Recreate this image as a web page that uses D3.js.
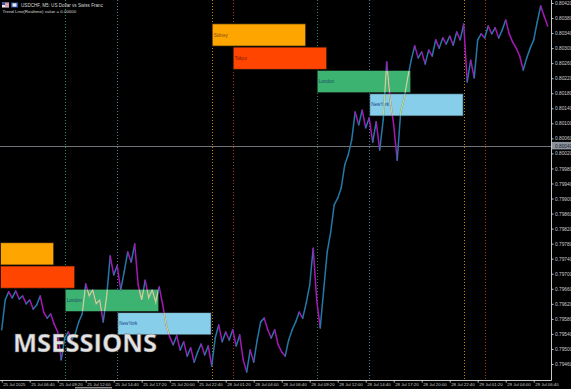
<!DOCTYPE html>
<html>
<head>
<meta charset="utf-8">
<script src="https://cdn.jsdelivr.net/npm/d3@7/dist/d3.min.js"></script>
<style>
  html, body { margin: 0; padding: 0; background: #000; overflow: hidden; }
  svg { display: block; }
</style>
</head>
<body>
<svg id="chart"></svg>
<script>
// USDCHF M5 closes, one value every 4 bars (bar 0 = 25 Jul 04:00)
const closes = [
  0.79551, 0.79630, 0.79652, 0.79636, 0.79654, 0.79633, 0.79641, 0.79620, 0.79630, 0.79606,
  0.79617, 0.79641, 0.79598, 0.79582, 0.79593, 0.79566, 0.79545, 0.79471, 0.79529, 0.79545,
  0.79524, 0.79540, 0.79572, 0.79593, 0.79673, 0.79641, 0.79657, 0.79620, 0.79630, 0.79572,
  0.79641, 0.79747, 0.79697, 0.79721, 0.79657, 0.79705, 0.79758, 0.79731, 0.79779, 0.79670,
  0.79630, 0.79683, 0.79636, 0.79657, 0.79625, 0.79665, 0.79617, 0.79564, 0.79532, 0.79511,
  0.79535, 0.79497, 0.79519, 0.79481, 0.79503, 0.79465, 0.79492, 0.79513, 0.79484, 0.79508,
  0.79455, 0.79529, 0.79564, 0.79519, 0.79545, 0.79524, 0.79551, 0.79508, 0.79537, 0.79471,
  0.79439, 0.79497, 0.79465, 0.79524, 0.79572, 0.79582, 0.79551, 0.79529, 0.79551, 0.79511,
  0.79492, 0.79481, 0.79524, 0.79551, 0.79572, 0.79598, 0.79582, 0.79622, 0.79670, 0.79768,
  0.79630, 0.79556, 0.79657, 0.79758, 0.79811, 0.79883, 0.79901, 0.79928, 0.79989, 0.80016,
  0.80056, 0.80130, 0.80096, 0.80135, 0.80088, 0.80114, 0.80050, 0.80104, 0.80029, 0.80109,
  0.80263, 0.80162, 0.80096, 0.80002, 0.80130, 0.80167, 0.80221, 0.80268, 0.80306, 0.80274,
  0.80290, 0.80258, 0.80295, 0.80279, 0.80322, 0.80300, 0.80327, 0.80311, 0.80332, 0.80308,
  0.80343, 0.80322, 0.80364, 0.80210, 0.80268, 0.80221, 0.80322, 0.80338, 0.80327, 0.80359,
  0.80338, 0.80354, 0.80327, 0.80348, 0.80375, 0.80338, 0.80316, 0.80300, 0.80279, 0.80242,
  0.80274, 0.80300, 0.80322, 0.80369, 0.80412, 0.80385, 0.80359
];
const barStep = 4;

const timeLabels = [
  "25 Jul 2025", "25 Jul 06:40", "25 Jul 09:20", "25 Jul 12:00", "25 Jul 14:40",
  "25 Jul 17:20", "25 Jul 20:00", "25 Jul 22:40", "28 Jul 01:20", "28 Jul 04:00",
  "28 Jul 06:40", "28 Jul 09:20", "28 Jul 12:00", "28 Jul 14:40", "28 Jul 17:20",
  "28 Jul 20:00", "28 Jul 22:40", "29 Jul 01:20", "29 Jul 04:00", "29 Jul 06:40"
];
const labelEvery = 32; // bars between time labels

const priceTicks = d3.range(0, 25).map(i => +(0.79460 + i * 0.0004).toFixed(5));

// sessions, in bars (start/end), stacked under the day's top price
const sessionNames = ["Sidney", "Tokyo", "London", "NewYork"];
const sessionFill = ["#FFA500", "#FF4500", "#3CB371", "#87CEEB"];
const sessionText = ["#7a4a10", "#7a1c00", "#1d4a6a", "#1d3f88"];
const sessionLine = ["#c98200", "#b5381a", "#2f8a55", "#4f7f99"];
const dayTops = [0.79784, 0.80366];
const sessionBoxes = [
  { day: 0, s: 0, start: -48, end: 60 },
  { day: 0, s: 1, start: -24, end: 84 },
  { day: 0, s: 2, start: 72, end: 180 },
  { day: 0, s: 3, start: 132, end: 240 },
  { day: 1, s: 0, start: 240, end: 348 },
  { day: 1, s: 1, start: 264, end: 372 },
  { day: 1, s: 2, start: 360, end: 468 },
  { day: 1, s: 3, start: 420, end: 528 }
];
const sessionStarts = [
  { s: 2, bar: 72 }, { s: 3, bar: 132 }, { s: 0, bar: 240 }, { s: 1, bar: 264 },
  { s: 2, bar: 360 }, { s: 3, bar: 420 }, { s: 0, bar: 528 }, { s: 1, bar: 552 }
];
const markerPrice = 0.80040;

const width = 571, height = 389;
const plotRight = 551, plotBottom = 380;

const svg = d3.select("#chart")
  .attr("width", width)
  .attr("height", height)
  .attr("viewBox", [0, 0, width, height]);

svg.append("rect").attr("width", width).attr("height", height).attr("fill", "#000");

const x = d3.scaleLinear().domain([0, 640]).range([1.7, 1.7 + 640 * 0.875]);
const y = d3.scaleLinear().domain([0.79460, 0.80420]).range([364, 3]);

const defs = svg.append("defs");
defs.append("clipPath").attr("id", "plot")
  .append("rect").attr("x", 0).attr("y", 0).attr("width", plotRight).attr("height", plotBottom);

const g = svg.append("g").attr("clip-path", "url(#plot)");

// session start lines
g.append("g").selectAll("line")
  .data(sessionStarts)
  .join("line")
  .attr("x1", d => Math.round(x(d.bar)) + 0.5)
  .attr("x2", d => Math.round(x(d.bar)) + 0.5)
  .attr("y1", 0).attr("y2", plotBottom)
  .attr("stroke", d => sessionLine[d.s])
  .attr("stroke-width", 1)
  .attr("stroke-dasharray", "1,2");

const rowH = 23.3;
const boxX = d => Math.max(0, x(d.start));
const boxY = d => y(dayTops[d.day]) + d.s * rowH;

// session boxes
const boxes = g.append("g").selectAll("g")
  .data(sessionBoxes)
  .join("g");
boxes.append("rect")
  .attr("x", d => boxX(d) + 0.5)
  .attr("y", d => boxY(d) + 0.5)
  .attr("width", d => x(d.end) - boxX(d) - 1)
  .attr("height", rowH - 1)
  .attr("fill", d => sessionFill[d.s])
  .attr("stroke", "#111")
  .attr("stroke-opacity", 0.7);
boxes.append("text")
  .attr("x", d => boxX(d) + 2)
  .attr("y", d => boxY(d) + rowH / 2 + 1.6)
  .attr("font-family", "Liberation Sans, Arial, sans-serif")
  .attr("font-size", 4.6)
  .attr("fill", d => sessionText[d.s])
  .text(d => d.start < 0 ? "" : sessionNames[d.s]);

// current price line
g.append("line")
  .attr("x1", 0).attr("x2", plotRight)
  .attr("y1", Math.round(y(markerPrice)) + 0.5).attr("y2", Math.round(y(markerPrice)) + 0.5)
  .attr("stroke", "#6f7378");

// price series as colored up/down segments
const pts = closes.map((c, i) => [x(i * barStep), y(c)]);
const segs = d3.pairs(pts).map(([a, b], i) => ({ a, b, up: closes[i + 1] >= closes[i] }));

const priceG = g.append("g");
priceG.selectAll("line")
  .data(segs)
  .join("line")
  .attr("x1", d => d.a[0]).attr("y1", d => d.a[1])
  .attr("x2", d => d.b[0]).attr("y2", d => d.b[1])
  .attr("stroke", d => d.up ? "#2479a8" : "#a817b8")
  .attr("stroke-width", 1.5)
  .attr("stroke-linecap", "round");

// inside the boxes the bars show up pale
const boxClip = defs.append("clipPath").attr("id", "boxes");
boxClip.selectAll("rect")
  .data(sessionBoxes)
  .join("rect")
  .attr("x", d => boxX(d) + 1)
  .attr("y", d => boxY(d) + 1)
  .attr("width", d => x(d.end) - boxX(d) - 2)
  .attr("height", rowH - 2);
g.append("path")
  .attr("clip-path", "url(#boxes)")
  .attr("d", d3.line()(pts))
  .attr("fill", "none")
  .attr("stroke", "#b9d98c")
  .attr("stroke-width", 1.5);

// right axis
const yAxis = svg.append("g")
  .attr("transform", `translate(${plotRight + 0.5},0)`)
  .call(d3.axisRight(y).tickValues(priceTicks).tickFormat(d3.format(".5f")).tickSize(2).tickPadding(1.5));
yAxis.select(".domain").attr("d", `M0,0V${plotBottom + 0.5}`).attr("stroke", "#c8c8c8");
yAxis.selectAll(".tick line").attr("stroke", "#c8c8c8");
yAxis.selectAll("text")
  .attr("fill", "#cfcfcf")
  .attr("font-family", "Liberation Sans, Arial, sans-serif")
  .attr("font-size", 4.8);

// marker label on axis
const my = y(markerPrice);
svg.append("rect")
  .attr("x", plotRight + 1).attr("y", my - 4)
  .attr("width", 19).attr("height", 7.5)
  .attr("fill", "#8c939c");
svg.append("text")
  .attr("x", plotRight + 4).attr("y", my + 1.7)
  .attr("font-family", "Liberation Sans, Arial, sans-serif")
  .attr("font-size", 4.8)
  .attr("fill", "#1a2230")
  .text(d3.format(".5f")(markerPrice));

// bottom axis
const xAxis = svg.append("g")
  .attr("transform", `translate(0,${plotBottom + 0.5})`)
  .call(d3.axisBottom(x)
    .tickValues(timeLabels.map((_, i) => i * labelEvery))
    .tickFormat((d, i) => timeLabels[i])
    .tickSize(2).tickPadding(0.5));
xAxis.select(".domain").attr("d", `M0,0H${plotRight + 0.5}`).attr("stroke", "#c8c8c8");
xAxis.selectAll(".tick line").attr("stroke", "#c8c8c8");
xAxis.selectAll("text")
  .attr("text-anchor", "start")
  .attr("dx", 1)
  .attr("fill", "#cfcfcf")
  .attr("font-family", "Liberation Sans, Arial, sans-serif")
  .attr("font-size", 4.3);

// scroll marker under the axis
svg.append("rect").attr("x", 75).attr("y", 387).attr("width", 37).attr("height", 1.5).attr("fill", "#8a8a8a");

// header
const head = svg.append("g");
head.append("rect").attr("x", 2).attr("y", 2.5).attr("width", 7).attr("height", 5).attr("fill", "#e8e8f0");
head.append("rect").attr("x", 2).attr("y", 2.5).attr("width", 3).attr("height", 2.5).attr("fill", "#3050b0");
head.append("rect").attr("x", 5).attr("y", 3.5).attr("width", 4).attr("height", 0.8).attr("fill", "#d03040");
head.append("rect").attr("x", 5).attr("y", 5.5).attr("width", 4).attr("height", 0.8).attr("fill", "#d03040");
head.append("rect").attr("x", 11).attr("y", 2.5).attr("width", 7).attr("height", 5).attr("fill", "#2a4fa8");
head.append("rect").attr("x", 12.5).attr("y", 3.3).attr("width", 4).attr("height", 3.4).attr("fill", "#e8e8f0");
head.append("text")
  .attr("x", 21).attr("y", 6.6)
  .attr("font-family", "Liberation Sans, Arial, sans-serif")
  .attr("font-size", 4.6)
  .attr("fill", "#d8d8d8")
  .text("USDCHF, M5:  US Dollar vs Swiss Franc");
head.append("text")
  .attr("x", 2.5).attr("y", 12.6)
  .attr("font-family", "Liberation Sans, Arial, sans-serif")
  .attr("font-size", 4.4)
  .attr("fill", "#d8d8d8")
  .text("Trend Line(Realtime) value = 0.00000");

// watermark
svg.append("text")
  .attr("x", 13).attr("y", 352)
  .attr("font-family", "Open Sans, DejaVu Sans, sans-serif")
  .attr("font-weight", 700)
  .attr("font-size", 25)
  .attr("textLength", 144)
  .attr("lengthAdjust", "spacingAndGlyphs")
  .attr("fill", "#e3e3e3")
  .attr("stroke", "#555")
  .attr("stroke-width", 0.4)
  .text("MSESSIONS");
</script>
</body>
</html>
